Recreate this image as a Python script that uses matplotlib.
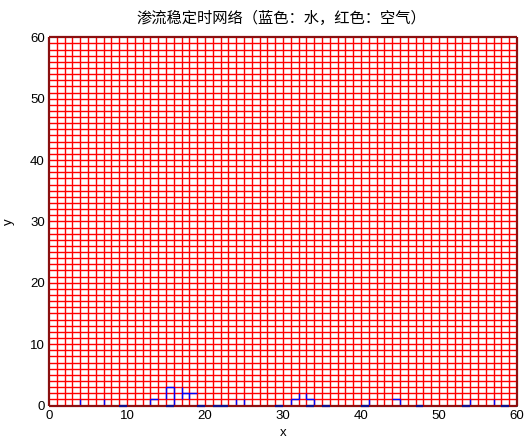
import matplotlib
matplotlib.use("Agg")
import matplotlib.pyplot as plt
from matplotlib.collections import LineCollection

# grid size
nx = 60
ny = 60
xticks = [0, 10, 20, 30, 40, 50, 60]
yticks = [0, 10, 20, 30, 40, 50, 60]
title = "渗流稳定时网络（蓝色：水，红色：空气）"

# blue (water) edges along the bottom boundary y=0: (x0, x1)
bottom_blue = [(9, 10), (15, 16), (19, 20), (21, 23), (29, 30), (33, 34),
               (35, 36), (40, 41), (47, 48), (53, 54), (58, 59)]
# interior blue horizontal edges: (y, x0, x1)
blue_h = [(1, 13, 14), (3, 15, 16), (2, 17, 19), (1, 31, 32), (1, 33, 34),
          (1, 44, 45)]
# blue vertical edges: (x, y0, y1)
blue_v = [(4, 0, 1), (7, 0, 1), (13, 0, 1), (15, 1, 3), (16, 0, 3), (17, 1, 3),
          (18, 1, 2), (24, 0, 1), (25, 0, 1), (31, 0, 1), (32, 1, 2), (33, 1, 2),
          (34, 0, 1), (41, 0, 1), (45, 0, 1), (54, 0, 1), (57, 0, 1)]

W, H = 526, 438
fig = plt.figure(figsize=(W / 100, H / 100), dpi=100)
x0p, x1p, y0p, y1p = 49, 517, 37.3, 405.5
ax = fig.add_axes([x0p / W, 1 - y1p / H, (x1p - x0p) / W, (y1p - y0p) / H])
ax.set_xlim(0, nx)
ax.set_ylim(0, ny)

lw = 1.0
# red grid lines (interior)
red_segs = []
for i in range(1, nx):
    red_segs.append([(i, 0), (i, ny)])
for j in range(1, ny):
    red_segs.append([(0, j), (nx, j)])
ax.add_collection(LineCollection(red_segs, colors="#ff0000", linewidths=lw, zorder=2))

# blue interior edges
bsegs = [[(x0, y), (x1, y)] for (y, x0, x1) in blue_h]
bsegs += [[(x, y0), (x, y1)] for (x, y0, y1) in blue_v]
ax.add_collection(LineCollection(bsegs, colors="#0000ff", linewidths=lw, zorder=3))

# border: dark red (black axis over red line), dark blue where water
border = [[(0, 0), (0, ny)], [(nx, 0), (nx, ny)], [(0, ny), (nx, ny)], [(0, 0), (nx, 0)]]
ax.add_collection(LineCollection(border, colors="#8a1010", linewidths=1.6,
                                 zorder=4, clip_on=False))
bb = [[(a, 0), (b, 0)] for (a, b) in bottom_blue]
ax.add_collection(LineCollection(bb, colors="#10108a", linewidths=1.6,
                                 zorder=5, clip_on=False))

for s in ax.spines.values():
    s.set_visible(False)

ax.set_xticks(xticks)
ax.set_yticks(yticks)
ax.tick_params(direction="in", length=4, width=0.6, color="black",
               top=True, right=True, labelsize=9.5, pad=3)
for lab in ax.get_xticklabels() + ax.get_yticklabels():
    lab.set_family(["Liberation Sans", "DejaVu Sans"])

ax.set_xlabel("x", fontsize=9.5, family=["Liberation Sans"])
ax.xaxis.set_label_coords(0.5, -0.058)
ax.set_ylabel("y", fontsize=9.5, family=["Liberation Sans"])
ax.yaxis.set_label_coords(-0.072, 0.5)

fig.text((x0p + x1p) / 2 / W - 0.004, 1 - 18 / H, title, ha="center", va="center",
         fontsize=11, family=["Noto Sans CJK SC", "DejaVu Sans"])

fig.savefig("out.png", dpi=100)
